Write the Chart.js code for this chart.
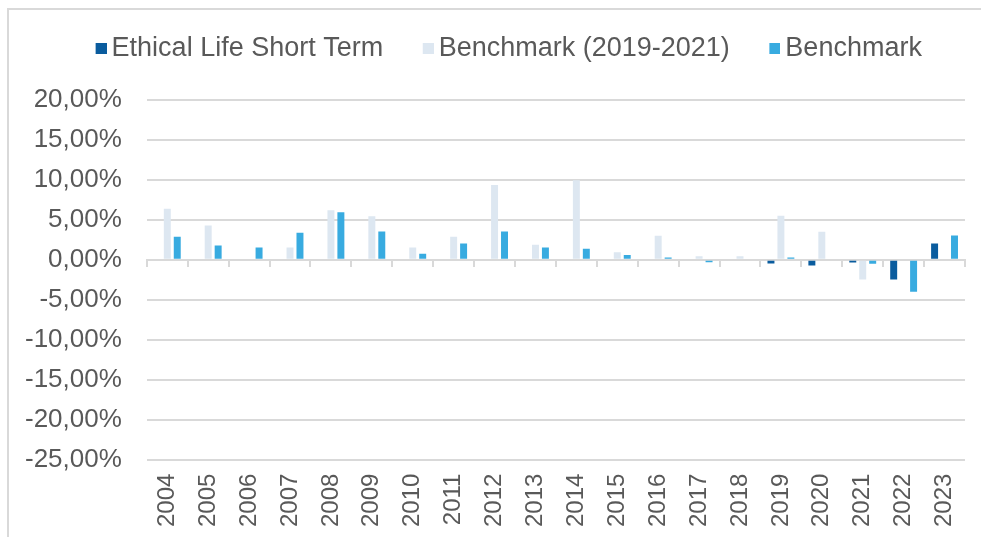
<!DOCTYPE html>
<html>
<head>
<meta charset="utf-8">
<script src="https://cdn.jsdelivr.net/npm/chart.js@4"></script>
<style>
  html, body { margin: 0; padding: 0; background: #fff; overflow: hidden; }
  #wrap { position: relative; width: 981px; height: 537px; }
  #frame { position: absolute; left: 7px; top: 8px; width: 990px; height: 560px; border: 2px solid #d9d9d9; box-sizing: border-box; }
  canvas#c { position: absolute; left: 0; top: 0; }
</style>
</head>
<body>
<div id="wrap">
  <div id="frame"></div>
  <canvas id="c" width="981" height="537"></canvas>
</div>
<script>
const years = ['2004','2005','2006','2007','2008','2009','2010','2011','2012','2013','2014','2015','2016','2017','2018','2019','2020','2021','2022','2023'];
const ethicalShortTerm = [null,null,null,null,null,null,null,null,null,null,null,null,null,null,null,-0.45,-0.7,-0.35,-2.45,2.05];
const benchmark2019_2021 = [6.4,4.3,null,1.55,6.2,5.45,1.55,2.9,9.35,1.9,9.95,0.95,3.0,0.45,0.45,5.5,3.5,-2.45,null,null];
const benchmark = [2.9,1.8,1.55,3.4,5.95,3.55,0.75,2.05,3.55,1.55,1.4,0.6,0.3,-0.3,null,0.3,null,-0.5,-4.0,3.05];
const yTicks = [-25,-20,-15,-10,-5,0,5,10,15,20];
const seriesColors = ['#0a5c9e', '#dde7f1', '#38abe0'];

const FONT = "'Liberation Sans', Arial, sans-serif";
const TXT = '#595959';

// legend marker: 11px square drawn toward the right of a wider transparent image
function markerImage(color) {
  const cv = document.createElement('canvas');
  cv.width = 28; cv.height = 11;
  const g = cv.getContext('2d');
  g.fillStyle = color;
  g.fillRect(17, 0, 11, 11);
  return cv;
}
const markers = seriesColors.map(markerImage);

const legendShift = {
  id: 'legendShift',
  afterLayout(chart) {
    const lg = chart.legend;
    if (!lg) return;
    lg.left += 22; lg.right += 22;
    lg.top -= 28; lg.bottom -= 28;
  }
};

new Chart(document.getElementById('c'), {
  type: 'bar',
  data: {
    labels: years,
    datasets: [
      { label: 'Ethical Life Short Term', data: ethicalShortTerm, backgroundColor: seriesColors[0] },
      { label: 'Benchmark (2019-2021)', data: benchmark2019_2021, backgroundColor: seriesColors[1] },
      { label: 'Benchmark', data: benchmark, backgroundColor: seriesColors[2] }
    ]
  },
  plugins: [legendShift],
  options: {
    responsive: false,
    animation: false,
    devicePixelRatio: 1,
    layout: { padding: { left: 0, right: 16, top: 32, bottom: 4 } },
    datasets: { bar: { categoryPercentage: 0.73, barPercentage: 0.7, borderWidth: 0 } },
    plugins: {
      tooltip: { enabled: false },
      legend: {
        position: 'top',
        labels: {
          font: { family: FONT, size: 27 },
          color: TXT,
          boxWidth: 11, boxHeight: 11,
          usePointStyle: true,
          padding: 31,
          generateLabels(chart) {
            const items = Chart.defaults.plugins.legend.labels.generateLabels(chart);
            items.forEach((it, i) => { it.pointStyle = markers[it.datasetIndex]; });
            return items;
          }
        }
      }
    },
    scales: {
      x: {
        type: 'category',
        position: 'bottom',
        grid: { display: false },
        border: { display: false },
        ticks: {
          font: { family: FONT, size: 24 },
          color: TXT,
          minRotation: 90, maxRotation: 90,
          padding: 6,
          autoSkip: false
        }
      },
      x0: {
        type: 'category',
        labels: years,
        position: { y: 0 },
        offset: true,
        grid: { display: true, offset: true, drawOnChartArea: false, drawTicks: true, tickLength: 6, color: '#d9d9d9', lineWidth: 2 },
        border: { display: true, color: '#d9d9d9', width: 2 },
        ticks: { display: false }
      },
      y: {
        min: -25, max: 20,
        afterBuildTicks: (axis) => { axis.ticks = yTicks.map(v => ({ value: v })); },
        grid: { color: '#d9d9d9', lineWidth: 2, drawTicks: false },
        border: { display: false },
        ticks: {
          font: { family: FONT, size: 26 },
          color: TXT,
          padding: 25,
          callback: (v) => v.toFixed(2).replace('.', ',') + '%'
        }
      }
    }
  }
});
</script>
</body>
</html>
